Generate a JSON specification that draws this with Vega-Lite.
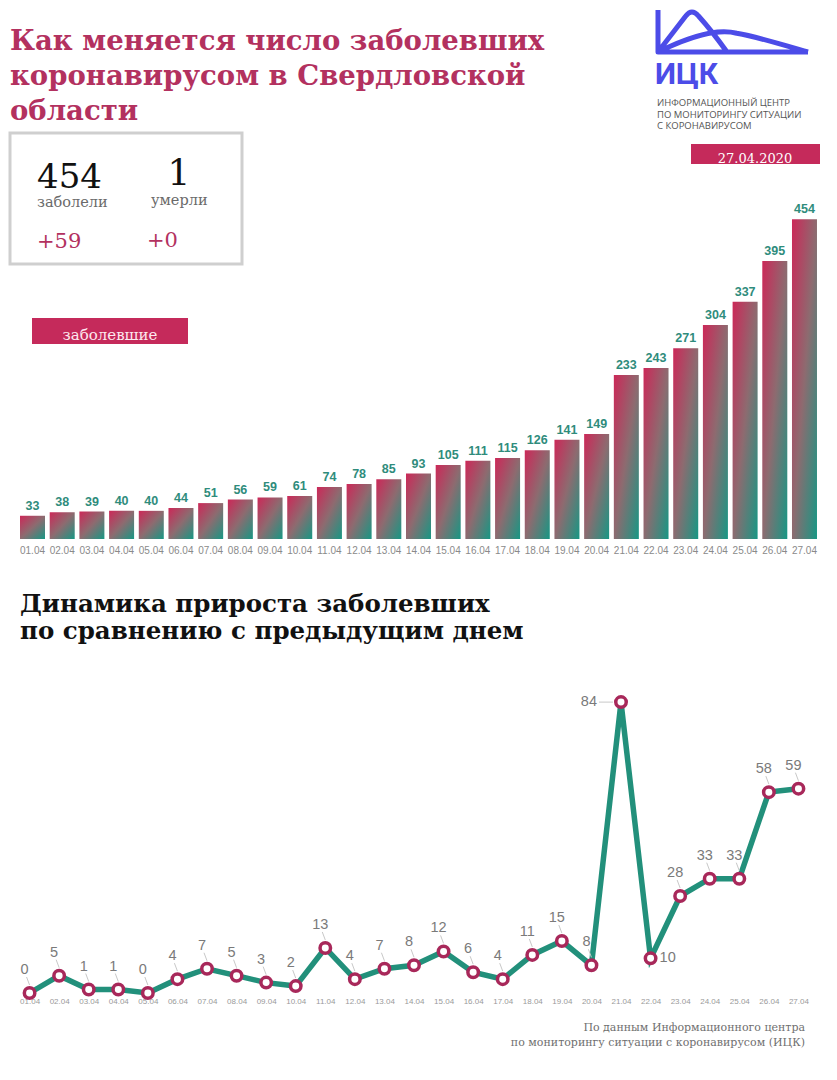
{
  "$schema": "https://vega.github.io/schema/vega-lite/v6.json",
  "background": "white",
  "padding": 0,
  "spacing": 36,
  "bounds": "flush",
  "config": {"view": {"stroke": null}},
  "datasets": {
    "covid": [
      {"d": "01.04", "total": 33, "inc": 0},
      {"d": "02.04", "total": 38, "inc": 5},
      {"d": "03.04", "total": 39, "inc": 1},
      {"d": "04.04", "total": 40, "inc": 1},
      {"d": "05.04", "total": 40, "inc": 0},
      {"d": "06.04", "total": 44, "inc": 4},
      {"d": "07.04", "total": 51, "inc": 7},
      {"d": "08.04", "total": 56, "inc": 5},
      {"d": "09.04", "total": 59, "inc": 3},
      {"d": "10.04", "total": 61, "inc": 2},
      {"d": "11.04", "total": 74, "inc": 13},
      {"d": "12.04", "total": 78, "inc": 4},
      {"d": "13.04", "total": 85, "inc": 7},
      {"d": "14.04", "total": 93, "inc": 8},
      {"d": "15.04", "total": 105, "inc": 12},
      {"d": "16.04", "total": 111, "inc": 6},
      {"d": "17.04", "total": 115, "inc": 4},
      {"d": "18.04", "total": 126, "inc": 11},
      {"d": "19.04", "total": 141, "inc": 15},
      {"d": "20.04", "total": 149, "inc": 8},
      {"d": "21.04", "total": 233, "inc": 84},
      {"d": "22.04", "total": 243, "inc": 10},
      {"d": "23.04", "total": 271, "inc": 28},
      {"d": "24.04", "total": 304, "inc": 33},
      {"d": "25.04", "total": 337, "inc": 33},
      {"d": "26.04", "total": 395, "inc": 58},
      {"d": "27.04", "total": 454, "inc": 59}
    ]
  },
  "vconcat": [
    {
      "width": 837,
      "height": 539,
      "layer": [
        {
          "data": {"values": [{}]},
          "mark": {"type": "text", "x": 10, "y": 50, "align": "left", "baseline": "alphabetic", "text": ["Как меняется число заболевших", "коронавирусом в Свердловской", "области"], "lineHeight": 35, "font": "DejaVu Serif", "fontWeight": "bold", "fontSize": 27.5, "color": "#b3315f"},
          "encoding": {}
        },
        {
          "data": {"values": [{}]},
          "mark": {"type": "rect", "x": 10, "y": 133, "x2": 242, "y2": 264, "fill": "white", "stroke": "#cfcfcf", "strokeWidth": 3},
          "encoding": {}
        },
        {
          "data": {"values": [{}]},
          "mark": {"type": "text", "x": 37, "y": 178, "align": "left", "text": "454", "font": "DejaVu Serif", "fontSize": 34, "color": "#111111"},
          "encoding": {}
        },
        {
          "data": {"values": [{}]},
          "mark": {"type": "text", "x": 179, "y": 174, "align": "center", "text": "1", "font": "DejaVu Serif", "fontSize": 36, "color": "#111111"},
          "encoding": {}
        },
        {
          "data": {"values": [{}]},
          "mark": {"type": "text", "x": 37, "y": 203, "align": "left", "text": "заболели", "font": "DejaVu Serif", "fontSize": 14.5, "color": "#6a6a6a"},
          "encoding": {}
        },
        {
          "data": {"values": [{}]},
          "mark": {"type": "text", "x": 151, "y": 201, "align": "left", "text": "умерли", "font": "DejaVu Serif", "fontSize": 14.5, "color": "#6a6a6a"},
          "encoding": {}
        },
        {
          "data": {"values": [{}]},
          "mark": {"type": "text", "x": 37, "y": 242, "align": "left", "text": "+59", "font": "DejaVu Serif", "fontSize": 21, "color": "#b3315f"},
          "encoding": {}
        },
        {
          "data": {"values": [{}]},
          "mark": {"type": "text", "x": 147, "y": 241, "align": "left", "text": "+0", "font": "DejaVu Serif", "fontSize": 21, "color": "#b3315f"},
          "encoding": {}
        },
        {
          "data": {"values": [{}]},
          "mark": {"type": "point", "x": 733, "y": 31, "size": 22500, "filled": false, "opacity": 1, "stroke": "#4c4ce8", "strokeWidth": 5, "strokeJoin": "round",
            "shape": "M -1 -0.28 L -1 0.28 L 1 0.28 M -1 0.28 L -0.63 -0.2 Q -0.55 -0.31 -0.46 -0.2 Q -0.28 0 -0.08 0.28 M -1 0.28 C -0.6 0.08 -0.2 -0.04 0.05 0.03 C 0.35 0.08 0.7 0.2 1 0.28"},
          "encoding": {}
        },
        {
          "data": {"values": [{}]},
          "mark": {"type": "text", "x": 655, "y": 84, "align": "left", "baseline": "alphabetic", "text": "ИЦК", "font": "Roboto", "fontWeight": "bold", "fontSize": 30, "color": "#4c4ce8"},
          "encoding": {}
        },
        {
          "data": {"values": [{}]},
          "mark": {"type": "text", "x": 657, "y": 106, "align": "left", "baseline": "alphabetic", "text": ["ИНФОРМАЦИОННЫЙ ЦЕНТР", "ПО МОНИТОРИНГУ СИТУАЦИИ", "С КОРОНАВИРУСОМ"], "lineHeight": 11.5, "font": "Open Sans", "fontSize": 9.5, "color": "#555555"},
          "encoding": {}
        },
        {
          "data": {"values": [{}]},
          "mark": {"type": "rect", "x": 691, "y": 144, "x2": 820, "y2": 164, "fill": "#c52a5b"},
          "encoding": {}
        },
        {
          "data": {"values": [{}]},
          "mark": {"type": "text", "x": 755, "y": 159, "align": "center", "text": "27.04.2020", "font": "DejaVu Serif", "fontSize": 13, "color": "#ffffff"},
          "encoding": {}
        },
        {
          "data": {"values": [{}]},
          "mark": {"type": "rect", "x": 32, "y": 318, "x2": 188, "y2": 344, "fill": "#c52a5b"},
          "encoding": {}
        },
        {
          "data": {"values": [{}]},
          "mark": {"type": "text", "x": 110, "y": 335, "align": "center", "text": "заболевшие", "font": "DejaVu Serif", "fontSize": 15, "color": "#fde8ef"},
          "encoding": {}
        },
        {
          "data": {"name": "covid"},
          "mark": {"type": "bar", "color": {"gradient": "linear", "x1": 0, "y1": 0, "x2": 1, "y2": 1, "stops": [{"offset": 0, "color": "#cc2858"}, {"offset": 0.5, "color": "#8d6b70"}, {"offset": 1, "color": "#179784"}]}},
          "encoding": {
            "x": {"field": "d", "type": "ordinal", "sort": null, "scale": {"paddingInner": 0.158, "paddingOuter": 0.674},
              "axis": {"title": null, "domain": false, "ticks": false, "tickSize": 0, "labelPadding": 6, "labelFontSize": 10, "labelColor": "#8a8a8a", "labelFont": "Liberation Sans", "labelAngle": 0}},
            "y": {"field": "total", "type": "quantitative", "scale": {"domain": [0, 765.6], "nice": false}, "axis": null}
          }
        },
        {
          "data": {"name": "covid"},
          "mark": {"type": "text", "baseline": "alphabetic", "dy": -6, "font": "Liberation Sans", "fontWeight": "bold", "fontSize": 12.5, "color": "#2f8c7c"},
          "encoding": {
            "x": {"field": "d", "type": "ordinal", "sort": null},
            "y": {"field": "total", "type": "quantitative"},
            "text": {"field": "total", "type": "quantitative"}
          }
        }
      ]
    },
    {
      "width": 828,
      "height": 418,
      "layer": [
        {
          "data": {"values": [{}]},
          "mark": {"type": "text", "x": 20, "y": 37, "align": "left", "baseline": "alphabetic", "text": ["Динамика прироста заболевших", "по сравнению с предыдущим днем"], "lineHeight": 27, "font": "DejaVu Serif", "fontWeight": "bold", "fontSize": 24.5, "color": "#111111"},
          "encoding": {}
        },
        {
          "data": {"values": [{}]},
          "mark": {"type": "text", "x": 805, "y": 456, "align": "right", "baseline": "alphabetic", "text": ["По данным Информационного центра", "по мониторингу ситуации с коронавирусом (ИЦК)"], "lineHeight": 15, "font": "DejaVu Serif", "fontSize": 11, "color": "#6f6f6f"},
          "encoding": {}
        },
        {
          "data": {"name": "covid"},
          "mark": {"type": "line", "color": "#22907b", "strokeWidth": 5.5, "strokeJoin": "miter"},
          "encoding": {
            "x": {"field": "d", "type": "ordinal", "sort": null, "scale": {"type": "point", "padding": 1.016},
              "axis": {"title": null, "domain": false, "ticks": false, "tickSize": 0, "labelPadding": 4, "labelFontSize": 8, "labelColor": "#9a9a9a", "labelFont": "Liberation Sans", "labelAngle": 0}},
            "y": {"field": "inc", "type": "quantitative", "scale": {"domain": [0, 120.7], "nice": false}, "axis": null}
          }
        },
        {
          "data": {"name": "covid"},
          "transform": [{"filter": "datum.d != '21.04' && datum.d != '22.04'"}],
          "mark": {"type": "rule", "color": "#c8c8c8", "strokeWidth": 1, "yOffset": -8, "y2Offset": -16, "xOffset": 0, "x2Offset": -3},
          "encoding": {
            "x": {"field": "d", "type": "ordinal", "sort": null},
            "x2": {"field": "d"},
            "y": {"field": "inc", "type": "quantitative"},
            "y2": {"field": "inc"}
          }
        },
        {
          "data": {"name": "covid"},
          "transform": [{"filter": "datum.d == '21.04'"}],
          "mark": {"type": "rule", "color": "#c8c8c8", "strokeWidth": 1, "xOffset": -8, "x2Offset": -22},
          "encoding": {
            "x": {"field": "d", "type": "ordinal", "sort": null},
            "x2": {"field": "d"},
            "y": {"field": "inc", "type": "quantitative"}
          }
        },
        {
          "data": {"name": "covid"},
          "mark": {"type": "point", "filled": false, "fill": "white", "fillOpacity": 1, "opacity": 1, "stroke": "#a8285a", "strokeWidth": 3.5, "size": 110},
          "encoding": {
            "x": {"field": "d", "type": "ordinal", "sort": null},
            "y": {"field": "inc", "type": "quantitative"}
          }
        },
        {
          "data": {"name": "covid"},
          "transform": [{"filter": "datum.d != '21.04' && datum.d != '22.04'"}],
          "mark": {"type": "text", "baseline": "alphabetic", "align": "center", "dy": -19, "dx": -5, "font": "Liberation Sans", "fontSize": 14.5, "color": "#7a7a7a"},
          "encoding": {
            "x": {"field": "d", "type": "ordinal", "sort": null},
            "y": {"field": "inc", "type": "quantitative"},
            "text": {"field": "inc", "type": "quantitative"}
          }
        },
        {
          "data": {"name": "covid"},
          "transform": [{"filter": "datum.d == '21.04'"}],
          "mark": {"type": "text", "baseline": "middle", "align": "right", "dx": -24, "font": "Liberation Sans", "fontSize": 14.5, "color": "#7a7a7a"},
          "encoding": {
            "x": {"field": "d", "type": "ordinal", "sort": null},
            "y": {"field": "inc", "type": "quantitative"},
            "text": {"field": "inc", "type": "quantitative"}
          }
        },
        {
          "data": {"name": "covid"},
          "transform": [{"filter": "datum.d == '22.04'"}],
          "mark": {"type": "text", "baseline": "middle", "align": "left", "dx": 9, "font": "Liberation Sans", "fontSize": 14.5, "color": "#7a7a7a"},
          "encoding": {
            "x": {"field": "d", "type": "ordinal", "sort": null},
            "y": {"field": "inc", "type": "quantitative"},
            "text": {"field": "inc", "type": "quantitative"}
          }
        }
      ]
    }
  ]
}
